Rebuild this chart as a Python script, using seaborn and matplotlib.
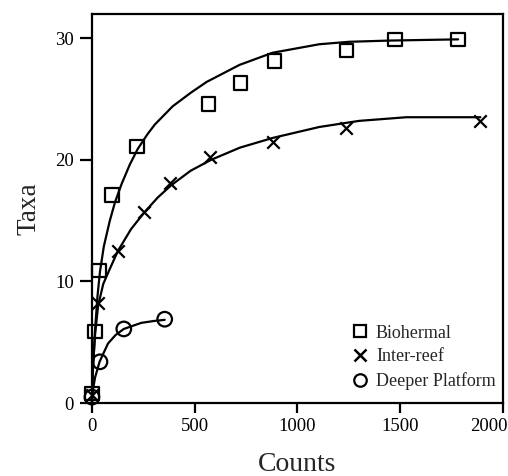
import numpy as np
import pandas as pd
import matplotlib
matplotlib.use("Agg")
import matplotlib.pyplot as plt
import matplotlib.transforms as mtransforms
import seaborn as sns
from matplotlib.lines import Line2D

# observed points
bio_x = [0, 15, 35, 97, 218, 568, 723, 888, 1238, 1476, 1782]
bio_y = [0.8, 5.9, 10.9, 17.1, 21.1, 24.6, 26.3, 28.1, 29.0, 29.9, 29.9]
inter_x = [0, 29, 126, 252, 379, 573, 880, 1238, 1888]
inter_y = [0.7, 8.2, 12.5, 15.7, 18.1, 20.2, 21.5, 22.6, 23.2]
deep_x = [0, 39, 155, 354]
deep_y = [0.5, 3.4, 6.1, 6.9]

# fitted curves
bio_cx = [0, 5, 15, 27, 39, 58, 87, 112, 144, 184, 223, 270, 306, 393, 480, 558,
          718, 879, 1107, 1252, 1447, 1782]
bio_cy = [0, 2.7, 6.0, 8.8, 10.8, 12.9, 15.0, 16.5, 18.0, 19.6, 20.9, 22.1, 22.9,
          24.4, 25.5, 26.4, 27.8, 28.8, 29.5, 29.7, 29.8, 29.9]
inter_cx = [0, 5, 15, 30, 55, 86, 126, 190, 256, 320, 385, 480, 580, 720, 880,
            1107, 1300, 1530, 1890]
inter_cy = [0, 3.0, 5.6, 8.0, 9.8, 11.0, 12.5, 14.3, 15.7, 16.9, 17.9, 19.1, 20.0,
            21.0, 21.8, 22.7, 23.2, 23.5, 23.5]
deep_cx = [0, 5, 15, 37, 78, 115, 155, 240, 300, 354]
deep_cy = [0, 1.1, 2.1, 3.4, 4.9, 5.6, 6.1, 6.6, 6.75, 6.85]

x_ticks = [0, 500, 1000, 1500, 2000]
y_ticks = [0, 10, 20, 30]

sns.set_style("ticks")
plt.rcParams['font.family'] = ['Liberation Serif', 'DejaVu Serif']

fig = plt.figure(figsize=(5.08, 4.76), dpi=100)
ax = fig.add_axes([0.181, 0.153, 0.809, 0.818])

for cx, cy in [(bio_cx, bio_cy), (inter_cx, inter_cy), (deep_cx, deep_cy)]:
    sns.lineplot(x=cx, y=cy, ax=ax, color='black', linewidth=1.6, sort=False,
                 estimator=None, clip_on=False)

sns.scatterplot(x=bio_x, y=bio_y, ax=ax, marker='s', s=95, facecolor='none',
                edgecolor='black', linewidth=1.6, clip_on=False, zorder=5)
sns.scatterplot(x=inter_x, y=inter_y, ax=ax, marker='x', s=80, color='black',
                linewidth=1.6, clip_on=False, zorder=5)
sns.scatterplot(x=deep_x, y=deep_y, ax=ax, marker='o', s=110, facecolor='none',
                edgecolor='black', linewidth=1.6, clip_on=False, zorder=5)

ax.set_xlim(0, 2000)
ax.set_ylim(0, 32)
ax.set_xticks(x_ticks)
ax.set_yticks(y_ticks)
ax.tick_params(direction='out', width=1.6, labelsize=13.5, pad=4, colors='black')
ax.tick_params(axis='x', length=7)
ax.tick_params(axis='y', length=9)
for sp in ax.spines.values():
    sp.set_linewidth(1.6)
    sp.set_color('black')

# last x label sits flush with the right edge, as in the original
last = ax.get_xticklabels()[-1]
last.set_horizontalalignment('right')
last.set_transform(last.get_transform() +
                   mtransforms.ScaledTranslation(0.05, 0, fig.dpi_scale_trans))

ax.set_xlabel('Counts', fontsize=20, labelpad=12)
ax.set_ylabel('Taxa', fontsize=19.5, labelpad=10)

handles = [
    Line2D([], [], marker='s', linestyle='none', markersize=9, markerfacecolor='none',
           markeredgecolor='black', markeredgewidth=1.6),
    Line2D([], [], marker='x', linestyle='none', markersize=9, color='black',
           markeredgewidth=1.8),
    Line2D([], [], marker='o', linestyle='none', markersize=9, markerfacecolor='none',
           markeredgecolor='black', markeredgewidth=1.6),
]
ax.legend(handles, ['Biohermal', 'Inter-reef', 'Deeper Platform'], loc='lower right',
          frameon=False, fontsize=13, handletextpad=0.3, handlelength=1.2,
          labelspacing=0.38, borderaxespad=0.0, bbox_to_anchor=(1.0, 0.015))

fig.savefig('out.png', dpi=100)
